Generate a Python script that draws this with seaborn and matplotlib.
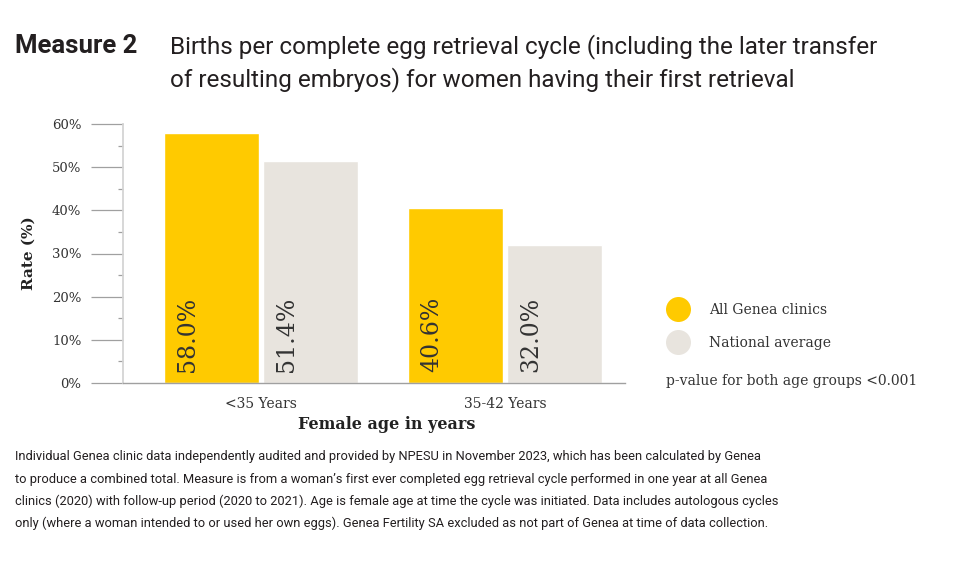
import matplotlib
matplotlib.use("Agg")
import matplotlib.pyplot as plt
from matplotlib.lines import Line2D
from matplotlib.ticker import MultipleLocator, FuncFormatter
import seaborn as sns
import pandas as pd

# ---- data ----
age_groups = ["<35 Years", "35-42 Years"]
series_names = ["All Genea clinics", "National average"]
genea_values = [58.0, 40.6]
national_values = [51.4, 32.0]
value_labels_genea = ["58.0%", "40.6%"]
value_labels_national = ["51.4%", "32.0%"]

title_lead = "Measure 2"
title_lines = ["Births per complete egg retrieval cycle (including the later transfer",
               "of resulting embryos) for women having their first retrieval"]
footnote_lines = [
    "Individual Genea clinic data independently audited and provided by NPESU in November 2023, which has been calculated by Genea",
    "to produce a combined total. Measure is from a woman\u2019s first ever completed egg retrieval cycle performed in one year at all Genea",
    "clinics (2020) with follow-up period (2020 to 2021). Age is female age at time the cycle was initiated. Data includes autologous cycles",
    "only (where a woman intended to or used her own eggs). Genea Fertility SA excluded as not part of Genea at time of data collection.",
]
p_note = "p-value for both age groups <0.001"

YELLOW = "#FFCA00"
GREY = "#E8E4DE"

df = pd.DataFrame({
    "age": age_groups * 2,
    "series": [series_names[0]] * 2 + [series_names[1]] * 2,
    "rate": genea_values + national_values,
})

sns.set_theme(style="white")
SERIF = ["DejaVu Serif"]
NARROW = ["Roboto", "DejaVu Sans"]
plt.rcParams["font.family"] = SERIF

W, H = 972, 569
fig = plt.figure(figsize=(W / 100, H / 100), dpi=100)
ax = fig.add_axes([123 / W, 1 - 383 / H, (625 - 123) / W, (383 - 124) / H])

sns.barplot(data=df, x="age", y="rate", hue="series", order=age_groups,
            hue_order=series_names, palette=[YELLOW, GREY], width=0.81, gap=0.04,
            saturation=1, legend=False, ax=ax)

ax.set_xlim(-0.564, 1.489)
ax.set_ylim(0, 60)
ax.yaxis.set_major_locator(MultipleLocator(10))
ax.yaxis.set_minor_locator(MultipleLocator(5))
ax.yaxis.set_major_formatter(FuncFormatter(lambda v, p: f"{int(v)}%"))
ax.tick_params(axis="y", which="major", length=23, width=0.9, color="#a0a0a0",
               pad=7, labelsize=9.5, labelcolor="#333333", direction="out", left=True)
ax.tick_params(axis="y", which="minor", length=3.6, width=0.9, color="#a0a0a0", left=True)
ax.tick_params(axis="x", length=0, pad=10, labelsize=10, labelcolor="#333333")

for s in ["top", "right"]:
    ax.spines[s].set_visible(False)
ax.spines["left"].set_color("#d4d4d4")
ax.spines["left"].set_linewidth(1.3)
ax.spines["bottom"].set_color("#a0a0a0")
ax.spines["bottom"].set_linewidth(1.0)

ax.set_ylabel("Rate (%)", fontsize=11, fontweight="bold", color="#222222")
ax.yaxis.set_label_coords((36 - 123) / (625 - 123), (383 - 253) / (383 - 124))
ax.set_xlabel("Female age in years", fontsize=11.5, fontweight="bold", color="#222222")
ax.xaxis.set_label_coords((387 - 123) / (625 - 123), -(416 - 383) / (383 - 124))

# value labels inside bars
labels_by_series = [value_labels_genea, value_labels_national]
for container, labs in zip(ax.containers, labels_by_series):
    for patch, lab in zip(container, labs):
        ax.text(patch.get_x() + patch.get_width() * 0.25, 2.5, lab, rotation=90,
                ha="center", va="bottom", fontsize=17, color="#333333")

# legend
handles = [Line2D([], [], marker="o", ls="", markersize=18, color=c, markeredgewidth=0)
           for c in [YELLOW, GREY]]
leg = ax.legend(handles, series_names, loc="upper left",
                bbox_to_anchor=(670 / W, 1 - 303 / H), bbox_transform=fig.transFigure,
                frameon=False, fontsize=10, handlelength=1.2, handletextpad=1.6,
                labelspacing=1.38, borderaxespad=0, borderpad=0)
for t in leg.get_texts():
    t.set_color("#333333")

fig.text(666 / W, 1 - 385 / H, p_note, fontsize=10, color="#333333", va="baseline")

# title
fig.text(15 / W, 1 - 53 / H, title_lead, fontsize=18.5, fontweight="bold",
         family=NARROW, color="#231f20", va="baseline")
for i, line in enumerate(title_lines):
    fig.text(170 / W, 1 - (53 + 33 * i) / H, line, fontsize=17.5,
             family=NARROW, color="#231f20", va="baseline")

# footnote
for i, line in enumerate(footnote_lines):
    fig.text(15 / W, 1 - (460 + 22.5 * i) / H, line, fontsize=9.25,
             family=NARROW, color="#231f20", va="baseline")

fig.savefig("out.png", dpi=100, facecolor="white")
